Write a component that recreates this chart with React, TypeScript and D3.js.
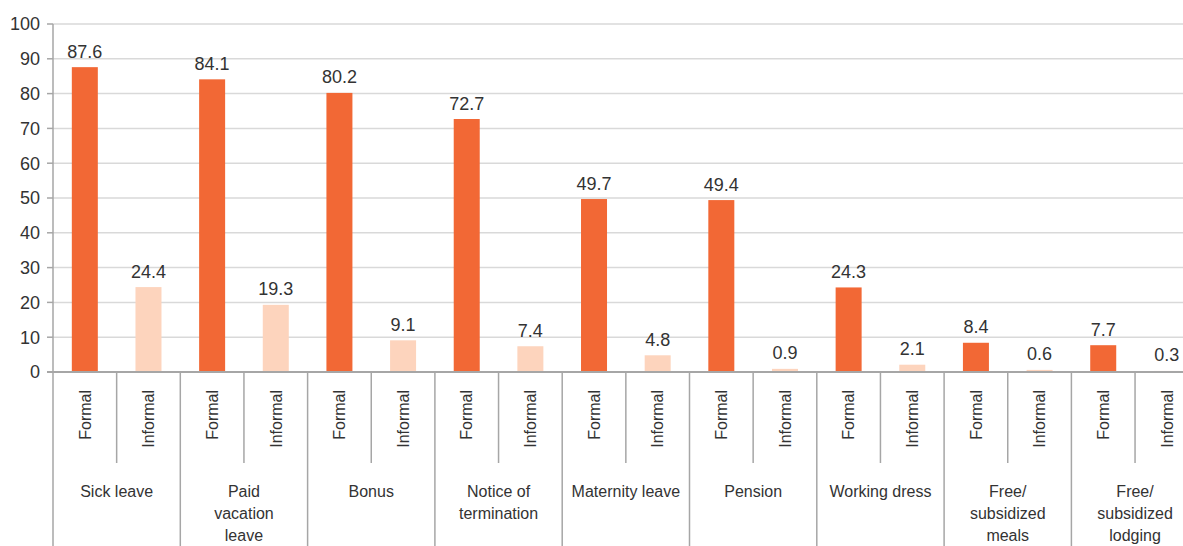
import React, { useEffect, useRef } from 'react';
import * as d3 from 'd3';

// Chart data
const categories = [
  ['Sick leave'],
  ['Paid', 'vacation', 'leave'],
  ['Bonus'],
  ['Notice of', 'termination'],
  ['Maternity leave'],
  ['Pension'],
  ['Working dress'],
  ['Free/', 'subsidized', 'meals'],
  ['Free/', 'subsidized', 'lodging'],
];
const groups = ['Formal', 'Informal'];
const formalValues = [87.6, 84.1, 80.2, 72.7, 49.7, 49.4, 24.3, 8.4, 7.7];
const informalValues = [24.4, 19.3, 9.1, 7.4, 4.8, 0.9, 2.1, 0.6, 0.3];
const yTicks = [0, 10, 20, 30, 40, 50, 60, 70, 80, 90, 100];

const colors = { Formal: '#f26835', Informal: '#fdd4bd' };

export default function App() {
  const svgRef = useRef<SVGSVGElement | null>(null);

  useEffect(() => {
    document.body.style.margin = '0';
    const width = 1183;
    const height = 546;
    const left = 53;
    const catWidth = 127.3;
    const top = 24;
    const bottom = 372;
    const font = '"Liberation Sans", Arial, sans-serif';
    const textColor = '#333';

    const svg = d3.select(svgRef.current);
    svg.selectAll('*').remove();

    const keys = categories.map((_, i) => String(i));
    const x0 = d3.scaleBand<string>()
      .domain(keys)
      .range([left, left + catWidth * categories.length]);
    const x1 = d3.scaleBand<string>()
      .domain(groups)
      .range([0, x0.bandwidth()]);
    const y = d3.scaleLinear().domain([0, 100]).range([bottom, top]);

    // gridlines + y ticks
    const grid = svg.append('g');
    grid.selectAll('line.grid')
      .data(yTicks.filter(t => t > 0))
      .enter()
      .append('line')
      .attr('class', 'grid')
      .attr('x1', left)
      .attr('x2', width)
      .attr('y1', d => y(d))
      .attr('y2', d => y(d))
      .attr('stroke', '#d9d9d9')
      .attr('stroke-width', 1.5);

    grid.selectAll('line.tick')
      .data(yTicks)
      .enter()
      .append('line')
      .attr('class', 'tick')
      .attr('x1', left - 6)
      .attr('x2', left)
      .attr('y1', d => y(d))
      .attr('y2', d => y(d))
      .attr('stroke', '#a6a6a6')
      .attr('stroke-width', 1.5);

    grid.selectAll('text')
      .data(yTicks)
      .enter()
      .append('text')
      .attr('x', 40)
      .attr('y', d => y(d))
      .attr('dy', '0.36em')
      .attr('text-anchor', 'end')
      .style('font-family', font)
      .style('font-size', '18px')
      .attr('fill', textColor)
      .text(d => d);

    // bars
    const rows = categories.map((c, i) => ({
      key: String(i),
      values: [
        { group: 'Formal', value: formalValues[i] },
        { group: 'Informal', value: informalValues[i] },
      ],
    }));

    const barW = 26;
    const catG = svg.selectAll('g.cat')
      .data(rows)
      .enter()
      .append('g')
      .attr('class', 'cat')
      .attr('transform', d => `translate(${x0(d.key)},0)`);

    catG.selectAll('rect')
      .data(d => d.values)
      .enter()
      .append('rect')
      .attr('x', d => x1(d.group)! + (x1.bandwidth() - barW) / 2)
      .attr('width', barW)
      .attr('y', d => y(d.value))
      .attr('height', d => y(0) - y(d.value))
      .attr('fill', d => colors[d.group as 'Formal' | 'Informal']);

    catG.selectAll('text.value')
      .data(d => d.values)
      .enter()
      .append('text')
      .attr('class', 'value')
      .attr('x', d => x1(d.group)! + x1.bandwidth() / 2)
      .attr('y', d => y(d.value) - 9.5)
      .attr('text-anchor', 'middle')
      .style('font-family', font)
      .style('font-size', '18px')
      .attr('fill', textColor)
      .text(d => d.value.toFixed(1));

    // group labels (rotated)
    catG.selectAll('text.group')
      .data(groups)
      .enter()
      .append('text')
      .attr('class', 'group')
      .attr('transform', g => `translate(${x1(g)! + x1.bandwidth() / 2},390) rotate(-90)`)
      .attr('dy', '0.36em')
      .attr('text-anchor', 'end')
      .style('font-family', font)
      .style('font-size', '16px')
      .attr('fill', textColor)
      .text(g => g);

    // inner separators between Formal / Informal
    catG.append('line')
      .attr('x1', x1('Informal')!)
      .attr('x2', x1('Informal')!)
      .attr('y1', bottom)
      .attr('y2', 463)
      .attr('stroke', '#a6a6a6')
      .attr('stroke-width', 1.5);

    // category labels
    catG.each(function (d, i) {
      const g = d3.select(this);
      categories[i].forEach((line, j) => {
        g.append('text')
          .attr('x', x0.bandwidth() / 2)
          .attr('y', 497 + j * 22)
          .attr('text-anchor', 'middle')
          .style('font-family', font)
          .style('font-size', '16px')
          .attr('fill', textColor)
          .text(line);
      });
    });

    // category separators: the first one is the y axis, full height
    svg.selectAll('line.catsep')
      .data([...keys.map(k => x0(k)!), left + catWidth * categories.length])
      .enter()
      .append('line')
      .attr('class', 'catsep')
      .attr('x1', d => d)
      .attr('x2', d => d)
      .attr('y1', (d, i) => (i === 0 ? top : bottom))
      .attr('y2', height)
      .attr('stroke', '#a6a6a6')
      .attr('stroke-width', 1.5);

    // x axis line
    svg.append('line')
      .attr('x1', left - 6)
      .attr('x2', width)
      .attr('y1', bottom)
      .attr('y2', bottom)
      .attr('stroke', '#a6a6a6')
      .attr('stroke-width', 2);
  }, []);

  return (
    <svg
      ref={svgRef}
      width={1183}
      height={546}
      style={{ display: 'block', background: '#fff' }}
    />
  );
}
